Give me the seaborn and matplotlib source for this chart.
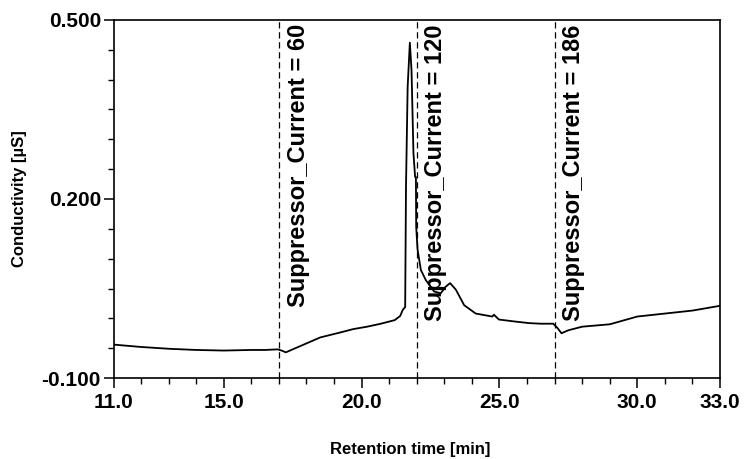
import matplotlib
matplotlib.use("Agg")
import matplotlib.pyplot as plt
import seaborn as sns
import pandas as pd
from matplotlib.ticker import MultipleLocator, FixedLocator, FormatStrFormatter

sns.set_theme(style="ticks")
plt.rcParams["font.family"] = ["Liberation Sans", "DejaVu Sans"]
plt.rcParams["font.weight"] = "bold"

# chromatogram trace
time_min = [11.0, 12.0, 13.0, 14.0, 15.0, 16.0, 16.5, 16.95, 17.1, 17.25, 17.5,
            18.0, 18.5, 19.2, 19.7, 20.2, 20.7, 21.2, 21.4, 21.49, 21.58,
            21.61, 21.67, 21.75, 21.81, 21.88, 21.94, 21.97, 21.98, 22.03,
            22.15, 22.33, 22.63, 22.87, 23.05, 23.21, 23.42, 23.72, 24.14,
            24.74, 24.8, 24.98, 25.5, 26.07, 26.5, 26.95, 27.1, 27.25, 27.5,
            28.0, 29.0, 30.0, 31.0, 32.0, 33.0]
conductivity = [-0.044, -0.048, -0.051, -0.053, -0.054, -0.053, -0.053, -0.052,
                -0.054, -0.057, -0.052, -0.042, -0.032, -0.024, -0.018, -0.014,
                -0.009, -0.003, 0.004, 0.014, 0.019, 0.221, 0.388, 0.462,
                0.416, 0.277, 0.237, 0.237, 0.153, 0.115, 0.081, 0.064, 0.045,
                0.042, 0.053, 0.059, 0.048, 0.022, 0.008, 0.003, 0.006, -0.002,
                -0.005, -0.008, -0.009, -0.009, -0.016, -0.025, -0.020, -0.014,
                -0.010, 0.003, 0.008, 0.013, 0.021]

event_times = [17.0, 22.0, 27.0]
event_labels = ["Suppressor_Current = 60", "Suppressor_Current = 120",
                "Suppressor_Current = 186"]

x_major = [11.0, 15.0, 20.0, 25.0, 30.0, 33.0]
y_major = [-0.1, 0.2, 0.5]

df = pd.DataFrame({"time": time_min, "cond": conductivity})

fig = plt.figure(figsize=(7.53, 4.59), dpi=100)
ax = fig.add_axes([113.5 / 753, 1 - 378 / 459, 606.5 / 753, 358 / 459])

sns.lineplot(data=df, x="time", y="cond", color="black", linewidth=1.3,
             estimator=None, sort=False, ax=ax)

for t, lab in zip(event_times, event_labels):
    ax.axvline(t, color="black", linewidth=0.9, linestyle=(0, (5, 3)))
    ax.text(t + 0.28, 0.493, lab, rotation=90, ha="left", va="top",
            fontsize=17, fontweight="bold", color="black")

ax.set_xlim(11, 33)
ax.set_ylim(-0.1, 0.5)
ax.xaxis.set_major_locator(FixedLocator(x_major))
ax.xaxis.set_minor_locator(MultipleLocator(1.0))
ax.xaxis.set_major_formatter(FormatStrFormatter("%.1f"))
ax.yaxis.set_major_locator(FixedLocator(y_major))
ax.yaxis.set_minor_locator(MultipleLocator(0.05))
ax.yaxis.set_major_formatter(FormatStrFormatter("%.3f"))

ax.tick_params(axis="both", which="major", length=7, width=1.1, color="black",
               labelsize=15, labelcolor="black")
ax.tick_params(axis="x", which="major", pad=4)
ax.tick_params(axis="y", which="major", pad=2)
ax.tick_params(axis="both", which="minor", length=4, width=1.0, color="black")
for lbl in ax.get_xticklabels() + ax.get_yticklabels():
    lbl.set_fontweight("bold")

for sp in ax.spines.values():
    sp.set_visible(True)
    sp.set_color("black")
    sp.set_linewidth(1.2)

ax.set_xlabel("Retention time [min]", fontsize=12, fontweight="bold", color="black")
ax.set_ylabel("Conductivity [µS]", fontsize=12, fontweight="bold", color="black")
ax.xaxis.set_label_coords(0.49, -0.18)
ax.yaxis.set_label_coords(-0.143, 0.5)

fig.savefig("out.png", dpi=100)
